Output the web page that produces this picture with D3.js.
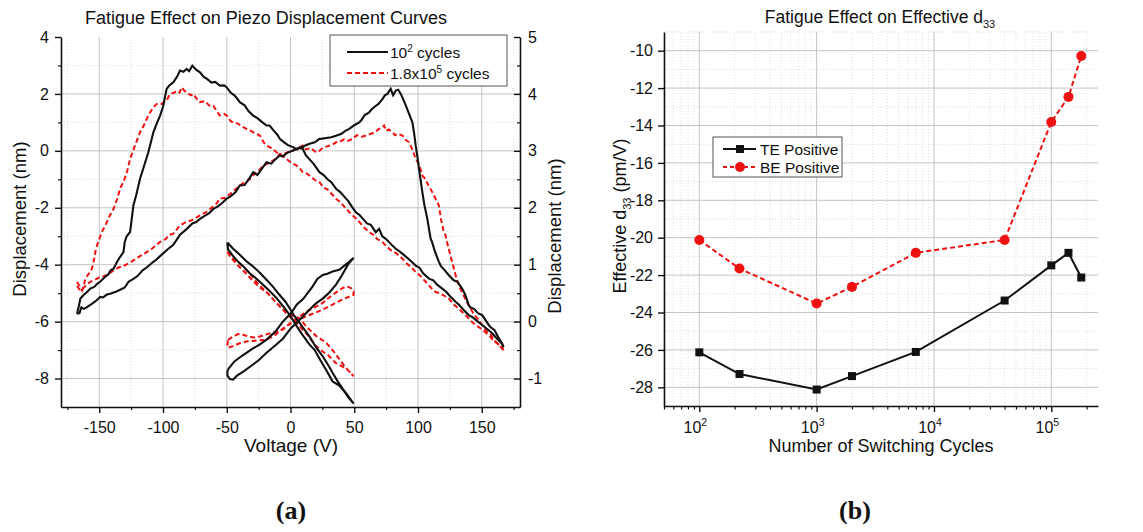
<!DOCTYPE html>
<html>
<head>
<meta charset="utf-8">
<script src="https://cdn.jsdelivr.net/npm/d3@7"></script>
<style>
  body { margin: 0; background: #fff; }
  svg { display: block; }
  text { font-family: "Liberation Sans", Arial, Helvetica, sans-serif; fill: #111; }
</style>
</head>
<body>
<svg id="chart" width="1143" height="532"></svg>
<script>
// ---------- panel (a): displacement loops, [voltage V, displacement nm] ----------
var black10e2Fwd = [[-167.4,-5.72],[-166,-5.45],[-164.8,-5.19],[-162,-5.05],[-160,-4.98],[-157,-4.84],[-154,-4.78],[-151,-4.65],[-149.2,-4.6],[-146,-4.45],[-143,-4.35],[-141,-4.2],[-138.8,-4.14],[-136,-3.9],[-134,-3.75],[-131,-3.56],[-130,-3.2],[-128.5,-3.0],[-125.8,-2.85],[-123.2,-1.92],[-121,-1.55],[-118,-0.98],[-115,-0.55],[-111.5,-0.05],[-109.5,0.3],[-107.5,0.66],[-105,0.95],[-102.3,1.24],[-100,1.55],[-97.1,2.18],[-95,2.3],[-91.9,2.41],[-89,2.6],[-86.7,2.82],[-84,2.78],[-81.5,2.88],[-79.5,2.8],[-77,2.99],[-74,2.85],[-71,2.76],[-68,2.6],[-65.5,2.53],[-62,2.4],[-59,2.42],[-55.4,2.29],[-52,2.3],[-50,2.23],[-47,2.05],[-44,1.95],[-42,1.85],[-39.8,1.71],[-36,1.6],[-33,1.4],[-29.3,1.24],[-26,1.15],[-22,1.0],[-18.8,0.89],[-16.4,0.89],[-13,0.7],[-10,0.55],[-8.4,0.42],[-5,0.3],[-2,0.2],[2,0.13],[5,0.05],[7,0.1],[9.6,0.07],[12,-0.15],[15,-0.3],[18,-0.45],[22.7,-0.75],[26,-0.85],[29,-1.0],[32,-1.1],[35.7,-1.33],[39,-1.45],[42,-1.6],[45,-1.75],[48,-1.95],[51.3,-2.16],[54,-2.25],[57,-2.4],[60,-2.55],[63,-2.6],[66.9,-2.86],[69.5,-2.74],[72,-3.0],[75,-3.1],[79.9,-3.33],[82.6,-3.44],[86,-3.55],[90,-3.7],[94,-3.85],[98.2,-4.03],[101,-4.1],[104,-4.3],[108.6,-4.49],[112,-4.55],[115,-4.7],[119,-4.84],[122,-4.95],[125,-5.1],[129.4,-5.3],[132,-5.4],[136,-5.6],[139.8,-5.77],[143,-5.85],[147,-6.0],[150.3,-6.12],[154,-6.25],[158,-6.4],[162,-6.6],[165.9,-6.77],[167,-6.9]];
var black10e2Rev = [[167,-6.9],[165.9,-6.77],[163,-6.55],[160,-6.3],[157,-6.2],[155.5,-6.12],[153,-5.95],[150.3,-5.77],[147,-5.7],[144,-5.55],[141,-5.5],[139.8,-5.42],[137,-5.05],[134.6,-4.84],[131,-4.6],[128,-4.55],[124.2,-4.37],[121,-4.2],[118,-4.05],[116.4,-3.9],[113,-3.5],[111,-3.2],[109.9,-3.09],[107.3,-2.39],[105,-1.9],[103.4,-1.45],[102,-1.0],[100.8,-0.63],[99.5,-0.2],[98.2,0.18],[97,0.6],[95.6,1.0],[93,1.3],[90.4,1.6],[88,1.85],[86.5,2.0],[84.5,2.15],[82.6,2.12],[80.5,1.95],[78.6,2.18],[76,2.0],[74,1.95],[72.1,1.82],[69,1.65],[66,1.55],[63.5,1.45],[61.7,1.35],[58,1.25],[56,1.1],[53.9,1.0],[50,0.9],[46.1,0.77],[43,0.7],[40,0.6],[35.7,0.53],[32,0.48],[28,0.45],[25,0.43],[22.7,0.42],[19,0.3],[15,0.25],[12,0.2],[9.6,0.13],[6,0.1],[2,0.01],[-3,-0.08],[-6,-0.2],[-8.4,-0.16],[-12,-0.3],[-15,-0.45],[-18.8,-0.4],[-22,-0.6],[-26,-0.85],[-29.3,-0.75],[-32,-0.95],[-36,-1.2],[-39.8,-1.22],[-43,-1.45],[-47,-1.6],[-50,-1.68],[-54,-1.85],[-57,-1.95],[-60.5,-2.04],[-64,-2.2],[-68,-2.3],[-71,-2.39],[-74,-2.5],[-77,-2.55],[-81.5,-2.75],[-86.7,-2.95],[-91.9,-3.3],[-96,-3.45],[-102.3,-3.7],[-106,-3.85],[-109,-3.95],[-112.8,-4.1],[-116,-4.2],[-120,-4.4],[-123.2,-4.5],[-127,-4.6],[-130,-4.8],[-133.6,-4.88],[-137,-4.95],[-141.4,-5.02],[-144,-5.05],[-147,-5.15],[-149.2,-5.13],[-152,-5.25],[-155,-5.35],[-159.6,-5.49],[-162,-5.55],[-164,-5.5],[-165.5,-5.7],[-167.4,-5.72]];
var red18e5Fwd = [[-167.4,-4.61],[-165.5,-4.75],[-163.5,-4.9],[-162,-4.7],[-160.9,-4.49],[-158,-4.3],[-155.7,-4.14],[-154,-3.8],[-152.6,-3.44],[-150,-3.1],[-147.4,-2.8],[-145,-2.6],[-142,-2.3],[-138.8,-2.04],[-136,-1.7],[-133.5,-1.3],[-131,-1.1],[-128,-0.7],[-125.8,-0.28],[-121.9,0.19],[-118,0.66],[-115,0.9],[-111.5,1.24],[-108,1.5],[-104.9,1.65],[-101,1.65],[-97.1,1.77],[-94.5,2.0],[-91,2.05],[-89.3,2.11],[-87,2.05],[-85.4,2.23],[-83,2.1],[-81.5,2.05],[-78,1.95],[-76.3,2.0],[-73,1.8],[-71,1.71],[-67,1.75],[-64,1.6],[-60.5,1.59],[-58,1.4],[-55.4,1.24],[-52,1.3],[-50,1.24],[-47,1.05],[-45,1.0],[-41,0.95],[-38,0.85],[-34.5,0.77],[-31,0.7],[-27,0.6],[-24,0.54],[-21,0.3],[-18.8,0.19],[-15,0.1],[-11,-0.05],[-7,-0.15],[-3.3,-0.28],[0,-0.4],[4.5,-0.51],[7,-0.6],[9.6,-0.75],[13,-0.8],[17,-0.95],[20,-1.05],[22.7,-1.1],[26,-1.3],[29,-1.35],[32,-1.5],[35.7,-1.68],[39,-1.8],[42,-1.95],[45,-2.1],[48.7,-2.27],[52,-2.4],[55,-2.55],[58,-2.7],[61.7,-2.86],[65,-2.95],[68,-3.1],[72.1,-3.2],[75,-3.35],[79,-3.5],[83,-3.6],[87.8,-3.79],[91,-3.95],[95,-4.1],[98.2,-4.26],[102,-4.4],[106,-4.6],[110,-4.8],[113.8,-4.96],[117,-5.0],[121,-5.1],[124.2,-5.19],[128,-5.4],[131,-5.5],[134.6,-5.66],[138,-5.8],[141,-5.95],[145,-6.12],[148,-6.2],[152,-6.35],[155.5,-6.48],[159,-6.65],[162,-6.75],[165.9,-6.89],[167,-7.0]];
var red18e5Rev = [[167,-7.0],[165.9,-6.95],[163,-6.8],[160.7,-6.71],[157,-6.45],[154,-6.35],[150.3,-6.12],[147,-5.9],[144,-5.75],[139.8,-5.43],[137,-5.2],[135,-5.0],[132,-4.73],[130,-4.45],[128.5,-4.2],[126.8,-3.91],[125,-3.6],[123,-3.25],[121.6,-2.97],[120,-2.8],[118,-2.4],[116.4,-1.92],[114,-1.7],[111.2,-1.45],[108,-1.2],[106,-1.0],[103.4,-0.87],[101,-0.5],[98.2,-0.28],[96,0.0],[93,0.3],[90,0.4],[87.8,0.54],[84,0.6],[82,0.55],[79.9,0.66],[77,0.75],[75,0.7],[73.4,0.89],[71,0.8],[69.5,0.77],[66,0.65],[63,0.6],[59.1,0.54],[56,0.5],[52,0.55],[48.7,0.42],[45,0.35],[42,0.4],[38,0.3],[35.7,0.3],[32,0.2],[28,0.15],[25,0.1],[22.7,0.0],[20,-0.05],[16,0.1],[12,0.05],[9.6,0.19],[6,0.1],[2,0.01],[-2,-0.05],[-5,-0.1],[-8.4,-0.11],[-12,-0.3],[-16,-0.4],[-18,-0.45],[-21.6,-0.52],[-25,-0.7],[-28,-0.8],[-32,-1.0],[-36,-1.1],[-39.8,-1.22],[-43,-1.35],[-47,-1.5],[-51,-1.65],[-55.4,-1.68],[-58,-1.85],[-62,-2.0],[-66,-2.15],[-71,-2.27],[-74,-2.35],[-78,-2.45],[-82,-2.5],[-86.7,-2.62],[-89,-2.75],[-91.9,-2.91],[-95,-2.95],[-98,-3.1],[-102.3,-3.2],[-105,-3.3],[-109,-3.45],[-112.8,-3.56],[-116,-3.65],[-120,-3.75],[-123.2,-3.85],[-127,-3.95],[-131,-4.05],[-135,-4.1],[-138.8,-4.2],[-142,-4.3],[-146,-4.4],[-150,-4.45],[-154.4,-4.55],[-157,-4.6],[-160,-4.7],[-163,-4.85],[-165,-4.9],[-167.4,-4.75]];

// inset loops (+-50 V), read on the right axis
var insetBlackDown = [[-49.5,1.39],[-45,1.28],[-40,1.18],[-34.6,1.06],[-30,0.98],[-25,0.88],[-19,0.74],[-14,0.62],[-9,0.48],[-4,0.35],[-0.8,0.24],[3,0.1],[8,-0.05],[14.8,-0.26],[20,-0.45],[25,-0.6],[30,-0.78],[33,-0.9],[37,-1.05],[41,-1.18],[45,-1.3],[49.5,-1.44],[46,-1.35],[42,-1.22],[38,-1.12],[33,-1.05],[28,-0.85],[24,-0.7],[19,-0.5],[14.8,-0.4],[9,-0.22],[4,-0.05],[0.5,0.08],[-4,0.22],[-11.2,0.42],[-17,0.55],[-23,0.68],[-28,0.78],[-32,0.85],[-37,0.97],[-41,1.05],[-45,1.15],[-49,1.27],[-49.5,1.39]];
var insetBlackUp = [[-49,-0.84],[-44,-0.7],[-38,-0.6],[-30,-0.48],[-24,-0.4],[-19,-0.32],[-12,-0.18],[-6,0.0],[0.5,0.15],[5,0.3],[10,0.4],[14,0.52],[17.4,0.62],[21,0.75],[25.3,0.82],[29,0.84],[33,0.88],[38.3,0.91],[42,0.98],[46,1.05],[49.5,1.12],[45,1.0],[40,0.8],[35.7,0.65],[30,0.5],[25,0.4],[20,0.32],[14.8,0.21],[8,0.05],[0.5,-0.11],[-6,-0.3],[-12,-0.42],[-19,-0.55],[-25,-0.68],[-31,-0.78],[-37,-0.88],[-42,-0.95],[-45,-1.02],[-47.5,-1.01],[-49.5,-0.95],[-49.5,-0.88],[-49,-0.84]];
var insetRedDown = [[-49.5,1.23],[-44,1.1],[-38,0.98],[-32,0.85],[-25,0.65],[-18,0.5],[-11.2,0.33],[-4,0.18],[2,0.1],[7,0.06],[13,-0.1],[20,-0.25],[27.9,-0.37],[33,-0.5],[38,-0.65],[43,-0.8],[49.5,-0.96],[45,-0.85],[40,-0.78],[35.7,-0.73],[30,-0.6],[25,-0.52],[20,-0.43],[14,-0.25],[7,-0.08],[1,0.05],[-6,0.21],[-12,0.35],[-18,0.5],[-24,0.6],[-29.4,0.71],[-35,0.85],[-41,0.98],[-47.7,1.15],[-49.5,1.23]];
var insetRedUp = [[-49,-0.32],[-45,-0.26],[-41,-0.22],[-37.2,-0.23],[-32,-0.27],[-28,-0.28],[-24.2,-0.26],[-18,-0.22],[-12,-0.18],[-6,-0.14],[0,-0.02],[7,0.09],[13,0.18],[19,0.25],[25.3,0.33],[30,0.42],[35,0.5],[40.9,0.59],[44,0.62],[47.4,0.59],[49.5,0.53],[49.5,0.47],[44,0.42],[38,0.36],[33,0.3],[27.9,0.24],[20,0.16],[13,0.1],[7,0.04],[2,-0.02],[-3.4,-0.08],[-8,-0.16],[-13,-0.25],[-19,-0.32],[-25,-0.33],[-30,-0.34],[-34.6,-0.35],[-40,-0.38],[-45,-0.43],[-49,-0.46],[-49.5,-0.4],[-49,-0.32]];

var voltTicks = [-150,-100,-50,0,50,100,150];
var voltMinor = [-175,-125,-75,-25,25,75,125,175];
var dispTicks = [-8,-6,-4,-2,0,2,4];
var dispMinor = [-9,-7,-5,-3,-1,1,3];
var insetTicks = [-1,0,1,2,3,4,5];
var insetMinor = [-0.5,0.5,1.5,2.5,3.5,4.5];

// ---------- panel (b): effective d33 vs cycles ----------
var cycles = [100, 220, 1000, 2000, 7000, 40000, 100000, 140000, 180000];
var tePositive = [-26.13, -27.29, -28.12, -27.4, -26.11, -23.36, -21.48, -20.81, -22.13];
var bePositive = [-20.12, -21.65, -23.52, -22.63, -20.81, -20.12, -13.81, -12.47, -10.28];
var cycleDecades = [2, 3, 4, 5];
var d33Ticks = [-28,-26,-24,-22,-20,-18,-16,-14,-12,-10];
var d33Minor = [-27,-25,-23,-21,-19,-17,-15,-13,-11,-9];

var svg = d3.select('#chart');
svg.append('rect').attr('width', 1143).attr('height', 532).attr('fill', '#fff');

var RED = '#ee1111';
var GRID = '#c4c4c4', GRID_MINOR = '#dddddd';

function styleAxis(g, fs){
	g.select('.domain').attr('stroke', '#111').attr('stroke-width', 1.6);
	g.selectAll('.tick line').attr('stroke', '#111').attr('stroke-width', 1.4);
	g.selectAll('.tick text').style('font-size', fs + 'px').attr('fill', '#111');
}
function minorAxis(g){
	g.select('.domain').remove();
	g.selectAll('.tick line').attr('stroke', '#111').attr('stroke-width', 1.2);
}

// ================= panel (a) =================
var xV = d3.scaleLinear().domain([-180,180]).range([61,520]);
var yD = d3.scaleLinear().domain([-9,4]).range([407,37]);
var yIn = d3.scaleLinear().domain([-1.5,5]).range([407,37]);

var gA = svg.append('g');

// grid
gA.selectAll('.vgm').data(voltMinor).enter().append('line')
	.attr('x1', d => xV(d)).attr('x2', d => xV(d)).attr('y1', yD(-9)).attr('y2', yD(4))
	.attr('stroke', GRID_MINOR).attr('stroke-dasharray', '1,2');
gA.selectAll('.hgm').data(dispMinor.filter(d => d > -9)).enter().append('line')
	.attr('x1', xV(-180)).attr('x2', xV(180)).attr('y1', d => yD(d)).attr('y2', d => yD(d))
	.attr('stroke', GRID_MINOR).attr('stroke-dasharray', '1,2');
gA.selectAll('.vg').data(voltTicks).enter().append('line')
	.attr('x1', d => xV(d)).attr('x2', d => xV(d)).attr('y1', yD(-9)).attr('y2', yD(4))
	.attr('stroke', GRID).attr('stroke-width', 1);
gA.selectAll('.hg').data(dispTicks.filter(d => d < 4)).enter().append('line')
	.attr('x1', xV(-180)).attr('x2', xV(180)).attr('y1', d => yD(d)).attr('y2', d => yD(d))
	.attr('stroke', GRID).attr('stroke-width', 1);

// curves
var lineA = d3.line().x(d => xV(d[0])).y(d => yD(d[1]));
var lineIn = d3.line().x(d => xV(d[0])).y(d => yIn(d[1]));

[red18e5Fwd, red18e5Rev].forEach(function(s){
	gA.append('path').attr('d', lineA(s)).attr('fill', 'none').attr('stroke', RED)
		.attr('stroke-width', 2).attr('stroke-dasharray', '5,3');
});
[black10e2Fwd, black10e2Rev].forEach(function(s){
	gA.append('path').attr('d', lineA(s)).attr('fill', 'none').attr('stroke', '#111').attr('stroke-width', 2.1);
});
[insetRedDown, insetRedUp].forEach(function(s){
	gA.append('path').attr('d', lineIn(s)).attr('fill', 'none').attr('stroke', RED)
		.attr('stroke-width', 2).attr('stroke-dasharray', '5,3');
});
[insetBlackDown, insetBlackUp].forEach(function(s){
	gA.append('path').attr('d', lineIn(s)).attr('fill', 'none').attr('stroke', '#111').attr('stroke-width', 2.1);
});

// axes
var axB = gA.append('g').attr('transform', 'translate(0,' + yD(-9) + ')')
	.call(d3.axisBottom(xV).tickValues(voltTicks).tickSize(6).tickPadding(9).tickSizeOuter(0).tickFormat(d => String(d)));
styleAxis(axB, 16);
minorAxis(gA.append('g').attr('transform', 'translate(0,' + yD(-9) + ')')
	.call(d3.axisBottom(xV).tickValues(voltMinor).tickSize(3).tickFormat('')));

var axL = gA.append('g').attr('transform', 'translate(' + xV(-180) + ',0)')
	.call(d3.axisLeft(yD).tickValues(dispTicks).tickSize(6).tickPadding(6).tickSizeOuter(0).tickFormat(d => String(d)));
styleAxis(axL, 16);
minorAxis(gA.append('g').attr('transform', 'translate(' + xV(-180) + ',0)')
	.call(d3.axisLeft(yD).tickValues(dispMinor.filter(d => d > -9)).tickSize(3).tickFormat('')));

var axR = gA.append('g').attr('transform', 'translate(' + xV(180) + ',0)')
	.call(d3.axisRight(yIn).tickValues(insetTicks).tickSize(-6).tickPadding(8).tickSizeOuter(0).tickFormat(d => String(d)));
styleAxis(axR, 16);
minorAxis(gA.append('g').attr('transform', 'translate(' + xV(180) + ',0)')
	.call(d3.axisRight(yIn).tickValues(insetMinor).tickSize(-3).tickFormat('')));

// titles and labels
gA.append('text').attr('x', 266).attr('y', 24).attr('text-anchor', 'middle').style('font-size', '18px')
	.text('Fatigue Effect on Piezo Displacement Curves');
gA.append('text').attr('x', 291).attr('y', 452).attr('text-anchor', 'middle').style('font-size', '19px')
	.text('Voltage (V)');
gA.append('text').attr('transform', 'translate(26,219) rotate(-90)').attr('text-anchor', 'middle').style('font-size', '18.5px')
	.text('Displacement (nm)');
gA.append('text').attr('transform', 'translate(561,236) rotate(-90)').attr('text-anchor', 'middle').style('font-size', '18.5px')
	.text('Displacement (nm)');

// legend (a)
var legA = gA.append('g');
legA.append('rect').attr('x', 330).attr('y', 35).attr('width', 177).attr('height', 51)
	.attr('fill', '#fff').attr('stroke', '#555').attr('stroke-width', 1);
legA.append('line').attr('x1', 347).attr('x2', 388).attr('y1', 52).attr('y2', 52).attr('stroke', '#111').attr('stroke-width', 2);
legA.append('line').attr('x1', 347).attr('x2', 388).attr('y1', 73).attr('y2', 73).attr('stroke', RED)
	.attr('stroke-width', 2).attr('stroke-dasharray', '5,3');
var t1 = legA.append('text').attr('x', 390).attr('y', 58).style('font-size', '15.5px');
t1.append('tspan').text('10');
t1.append('tspan').attr('dy', -6).style('font-size', '10px').text('2');
t1.append('tspan').attr('dy', 6).text(' cycles');
var t2 = legA.append('text').attr('x', 390).attr('y', 79).style('font-size', '15.5px');
t2.append('tspan').text('1.8x10');
t2.append('tspan').attr('dy', -6).style('font-size', '10px').text('5');
t2.append('tspan').attr('dy', 6).text(' cycles');

// ================= panel (b) =================
var xN = d3.scaleLog().domain([50, 250000]).range([664, 1098]);
var yE = d3.scaleLinear().domain([-29, -9]).range([406, 32]);
var gB = svg.append('g');

var logMinor = [];
[10, 100, 1000, 10000, 100000].forEach(function(dec){
	for (var m = 2; m <= 9; m++) {
		var v = dec * m;
		if (v >= 50 && v <= 250000 && cycleDecades.indexOf(Math.log10(v)) < 0) logMinor.push(v);
	}
});
var logMajor = cycleDecades.map(p => Math.pow(10, p));

gB.selectAll('.vgm').data(logMinor).enter().append('line')
	.attr('x1', d => xN(d)).attr('x2', d => xN(d)).attr('y1', yE(-29)).attr('y2', yE(-9))
	.attr('stroke', GRID_MINOR).attr('stroke-dasharray', '1,2');
gB.selectAll('.hgm').data(d33Minor).enter().append('line')
	.attr('x1', xN(50)).attr('x2', xN(250000)).attr('y1', d => yE(d)).attr('y2', d => yE(d))
	.attr('stroke', GRID_MINOR).attr('stroke-dasharray', '1,2');
gB.selectAll('.vg').data(logMajor).enter().append('line')
	.attr('x1', d => xN(d)).attr('x2', d => xN(d)).attr('y1', yE(-29)).attr('y2', yE(-9))
	.attr('stroke', GRID);
gB.selectAll('.hg').data(d33Ticks).enter().append('line')
	.attr('x1', xN(50)).attr('x2', xN(250000)).attr('y1', d => yE(d)).attr('y2', d => yE(d))
	.attr('stroke', GRID);

var te = cycles.map((c, i) => [c, tePositive[i]]);
var be = cycles.map((c, i) => [c, bePositive[i]]);
var lineB = d3.line().x(d => xN(d[0])).y(d => yE(d[1]));

gB.append('path').attr('d', lineB(te)).attr('fill', 'none').attr('stroke', '#111').attr('stroke-width', 2);
gB.append('path').attr('d', lineB(be)).attr('fill', 'none').attr('stroke', RED).attr('stroke-width', 2).attr('stroke-dasharray', '5,3');
gB.selectAll('.sq').data(te).enter().append('rect')
	.attr('x', d => xN(d[0]) - 4).attr('y', d => yE(d[1]) - 4).attr('width', 8).attr('height', 8).attr('fill', '#111');
gB.selectAll('.ci').data(be).enter().append('circle')
	.attr('cx', d => xN(d[0])).attr('cy', d => yE(d[1])).attr('r', 5).attr('fill', RED);

var axBB = gB.append('g').attr('transform', 'translate(0,' + yE(-29) + ')')
	.call(d3.axisBottom(xN).tickValues(logMajor).tickSize(6).tickSizeOuter(0).tickFormat(''));
styleAxis(axBB, 16);
minorAxis(gB.append('g').attr('transform', 'translate(0,' + yE(-29) + ')')
	.call(d3.axisBottom(xN).tickValues(logMinor).tickSize(3.5).tickFormat('')));
gB.selectAll('.xl').data(cycleDecades).enter().append('text')
	.attr('x', d => xN(Math.pow(10, d)) - 4).attr('y', 433).attr('text-anchor', 'middle').style('font-size', '16px')
	.each(function(d){
		var t = d3.select(this);
		t.append('tspan').text('10');
		t.append('tspan').attr('dy', -7).style('font-size', '10.5px').text(String(d));
	});

var axLB = gB.append('g').attr('transform', 'translate(' + xN(50) + ',0)')
	.call(d3.axisLeft(yE).tickValues(d33Ticks).tickSize(6).tickPadding(5).tickSizeOuter(0).tickFormat(d => String(d)));
styleAxis(axLB, 16);
minorAxis(gB.append('g').attr('transform', 'translate(' + xN(50) + ',0)')
	.call(d3.axisLeft(yE).tickValues(d33Minor.filter(d => d > -9)).tickSize(3).tickFormat('')));

var tt = gB.append('text').attr('x', 880).attr('y', 23).attr('text-anchor', 'middle').style('font-size', '17.5px');
tt.append('tspan').text('Fatigue Effect on Effective d');
tt.append('tspan').attr('dy', 5).style('font-size', '11px').text('33');

gB.append('text').attr('x', 881).attr('y', 452).attr('text-anchor', 'middle').style('font-size', '18px')
	.text('Number of Switching Cycles');
var yl = gB.append('text').attr('transform', 'translate(626,216) rotate(-90)').attr('text-anchor', 'middle').style('font-size', '18px');
yl.append('tspan').text('Effective d');
yl.append('tspan').attr('dy', 5).style('font-size', '11px').text('33');
yl.append('tspan').attr('dy', -5).text(' (pm/V)');

// legend (b)
var legB = gB.append('g');
legB.append('rect').attr('x', 713).attr('y', 137).attr('width', 129).attr('height', 40)
	.attr('fill', '#fff').attr('stroke', '#555').attr('stroke-width', 1);
legB.append('line').attr('x1', 723).attr('x2', 756).attr('y1', 149).attr('y2', 149).attr('stroke', '#111').attr('stroke-width', 2);
legB.append('rect').attr('x', 736).attr('y', 145).attr('width', 8).attr('height', 8).attr('fill', '#111');
legB.append('text').attr('x', 760).attr('y', 155).style('font-size', '15.5px').text('TE Positive');
legB.append('line').attr('x1', 723).attr('x2', 756).attr('y1', 167).attr('y2', 167).attr('stroke', RED)
	.attr('stroke-width', 2).attr('stroke-dasharray', '4,3');
legB.append('circle').attr('cx', 740).attr('cy', 167).attr('r', 5).attr('fill', RED);
legB.append('text').attr('x', 760).attr('y', 173).style('font-size', '15.5px').text('BE Positive');

// panel letters
svg.append('text').attr('x', 291).attr('y', 519).attr('text-anchor', 'middle')
	.style('font-family', '"Liberation Serif", "Times New Roman", serif').style('font-weight', 'bold').style('font-size', '26px').text('(a)');
svg.append('text').attr('x', 855).attr('y', 519).attr('text-anchor', 'middle')
	.style('font-family', '"Liberation Serif", "Times New Roman", serif').style('font-weight', 'bold').style('font-size', '26px').text('(b)');
</script>
</body>
</html>
